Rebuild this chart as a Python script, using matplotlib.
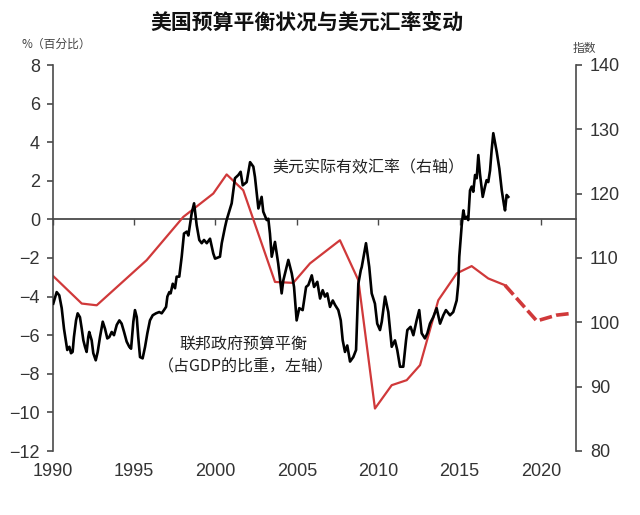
import numpy as np
import matplotlib
matplotlib.use("Agg")
import matplotlib.pyplot as plt

plt.rcParams['font.family'] = ['Liberation Sans', 'Noto Sans CJK SC', 'DejaVu Sans']
cjk = ['Noto Sans CJK SC', 'DejaVu Sans']

# 联邦政府预算平衡（占GDP的比重，左轴）
budget_years = [1990.04, 1991.79, 1992.71, 1995.78, 1998.03, 1999.87, 2000.69, 2001.71,
                2003.66, 2004.78, 2005.81, 2007.65, 2008.78, 2009.80, 2010.83, 2011.75,
                2012.57, 2013.69, 2014.82, 2015.74, 2016.76, 2017.79]
budget_vals = [-2.94, -4.36, -4.45, -2.11, 0.13, 1.34, 2.33, 1.51,
               -3.24, -3.29, -2.28, -1.08, -3.15, -9.80, -8.59, -8.33,
               -7.55, -4.19, -2.80, -2.42, -3.06, -3.41]
# 预测部分（虚线）
fc_years = [2017.79, 2019.74, 2020.96, 2021.78]
fc_vals = [-3.41, -5.26, -4.96, -4.88]

# 美元实际有效汇率（右轴）
reer_years = [1990.04, 1990.25, 1990.41, 1990.56, 1990.70, 1990.82, 1990.90, 1991.03, 1991.13, 1991.23,
              1991.31, 1991.44, 1991.54, 1991.68, 1991.79, 1991.89, 1991.99, 1992.09, 1992.19, 1992.25,
              1992.40, 1992.50, 1992.65, 1992.77, 1992.91, 1993.08, 1993.22, 1993.36, 1993.48, 1993.63,
              1993.77, 1993.94, 1994.10, 1994.24, 1994.39, 1994.55, 1994.71, 1994.82, 1994.96, 1995.06,
              1995.17, 1995.26, 1995.37, 1995.53, 1995.68, 1995.82, 1995.98, 1996.15, 1996.35, 1996.55,
              1996.70, 1996.84, 1996.97, 1997.05, 1997.17, 1997.25, 1997.38, 1997.52, 1997.62, 1997.78,
              1997.93, 1998.07, 1998.24, 1998.34, 1998.54, 1998.69, 1998.85, 1999.01, 1999.16, 1999.30,
              1999.47, 1999.67, 1999.87, 1999.98, 2000.28, 2000.39, 2000.59, 2000.69, 2001.00, 2001.20,
              2001.41, 2001.55, 2001.68, 2001.92, 2002.13, 2002.33, 2002.43, 2002.64, 2002.84, 2002.94,
              2003.15, 2003.25, 2003.35, 2003.46, 2003.66, 2003.86, 2004.07, 2004.17, 2004.48, 2004.69,
              2004.83, 2004.99, 2005.15, 2005.36, 2005.57, 2005.71, 2005.92, 2006.06, 2006.26, 2006.43,
              2006.59, 2006.73, 2006.87, 2007.04, 2007.21, 2007.35, 2007.55, 2007.70, 2007.82, 2007.96,
              2008.10, 2008.27, 2008.47, 2008.64, 2008.78, 2008.93, 2008.99, 2009.25, 2009.45, 2009.60,
              2009.80, 2009.94, 2010.11, 2010.22, 2010.42, 2010.62, 2010.83, 2011.03, 2011.17, 2011.34,
              2011.54, 2011.71, 2011.79, 2011.99, 2012.16, 2012.36, 2012.52, 2012.67, 2012.87, 2013.02,
              2013.18, 2013.38, 2013.59, 2013.80, 2014.00, 2014.16, 2014.41, 2014.61, 2014.82, 2014.92,
              2014.98, 2015.13, 2015.23, 2015.33, 2015.44, 2015.53, 2015.64, 2015.74, 2015.84, 2015.95,
              2016.05, 2016.15, 2016.25, 2016.42, 2016.56, 2016.66, 2016.76, 2016.87, 2016.97, 2017.07,
              2017.28, 2017.44, 2017.59, 2017.73, 2017.79, 2017.89, 2017.99]
reer_vals = [102.9, 104.7, 104.2, 102.2, 99.0, 97.0, 95.7, 96.2, 95.2, 95.4,
             97.7, 100.3, 101.4, 100.8, 99.0, 97.2, 96.2, 95.4, 97.7, 98.5,
             97.2, 95.2, 94.1, 95.4, 97.7, 100.1, 99.0, 97.5, 97.7, 98.5,
             98.0, 99.6, 100.3, 99.8, 98.5, 97.0, 96.2, 95.9, 100.1, 101.9,
             100.8, 97.7, 94.6, 94.4, 96.2, 98.3, 100.3, 101.1, 101.4, 101.6,
             101.4, 101.9, 102.4, 104.0, 104.7, 104.5, 106.0, 105.3, 107.1, 107.1,
             110.2, 113.8, 114.1, 113.5, 116.9, 118.5, 115.1, 112.8, 112.3, 112.8,
             112.3, 113.0, 110.7, 109.9, 110.2, 112.3, 114.8, 115.9, 118.5, 122.4,
             122.9, 123.4, 121.3, 121.8, 124.9, 124.2, 122.6, 117.7, 119.5, 117.2,
             115.9, 116.1, 113.8, 110.2, 112.5, 109.1, 104.5, 106.5, 109.7, 107.6,
             105.5, 100.3, 102.2, 101.9, 105.5, 105.8, 107.3, 105.5, 106.3, 103.7,
             105.0, 104.0, 104.5, 102.4, 103.4, 102.7, 101.9, 100.3, 97.2, 95.4,
             96.4, 93.9, 94.6, 95.7, 106.0, 108.1, 108.6, 112.3, 108.6, 104.5,
             102.9, 99.8, 98.8, 100.1, 104.0, 101.6, 96.2, 97.2, 95.7, 93.1,
             93.1, 97.2, 98.8, 99.3, 98.0, 100.3, 101.9, 98.3, 97.5, 98.3,
             99.8, 100.8, 102.2, 99.8, 101.1, 101.9, 101.1, 101.6, 103.4, 106.0,
             110.2, 115.1, 117.4, 116.1, 116.4, 115.9, 120.5, 121.1, 120.3, 122.9,
             122.4, 126.0, 123.1, 119.5, 121.1, 122.1, 121.8, 123.6, 126.8, 129.4,
             126.5, 123.9, 120.5, 118.2, 117.4, 119.8, 119.5]

x_ticks = [1990, 1995, 2000, 2005, 2010, 2015, 2020]
left_ticks = [8, 6, 4, 2, 0, -2, -4, -6, -8, -10, -12]
right_ticks = [140, 130, 120, 110, 100, 90, 80]

red = '#d0393a'
axis_col = '#4a4a4a'
txt_col = '#333333'

fig = plt.figure(figsize=(6.4, 5.15), dpi=100)
ax = fig.add_axes([52.6 / 640, 1 - 451 / 515, (576 - 52.6) / 640, (451 - 65) / 515])
ax.set_xlim(1990, 2022.15)
ax.set_ylim(-12, 8)

ax.plot(budget_years, budget_vals, color=red, lw=1.6, zorder=2)
ax.plot(fc_years, fc_vals, color=red, lw=2.6, linestyle=(0, (3.5, 1.2)), zorder=2)

ax2 = ax.twinx()
ax2.set_ylim(80, 140)
ax2.plot(reer_years, reer_vals, color='black', lw=1.9, zorder=3)

for a in (ax, ax2):
    a.spines['top'].set_visible(False)
    a.spines['bottom'].set_visible(False)
ax.spines['right'].set_visible(False)
ax2.spines['left'].set_visible(False)
ax.spines['left'].set_color(axis_col)
ax2.spines['right'].set_color(axis_col)
ax.spines['left'].set_linewidth(1.2)
ax2.spines['right'].set_linewidth(1.2)

ax.set_xticks(x_ticks)
ax.set_xticklabels([str(y) for y in x_ticks])
ax.tick_params(axis='x', length=0, pad=9, labelsize=13, labelcolor=txt_col)
ax.set_yticks(left_ticks)
ax.tick_params(axis='y', direction='out', length=4, width=1.2, color=axis_col,
               pad=5, labelsize=13, labelcolor=txt_col)
ax2.set_yticks(right_ticks)
ax2.tick_params(axis='y', direction='out', length=4, width=1.2, color=axis_col,
                pad=6, labelsize=13, labelcolor=txt_col)

# zero line with small ticks at 0 of the left axis
zero = ax.secondary_xaxis(12 / 20)
zero.set_xticks(x_ticks)
zero.tick_params(direction='in', length=4, width=1, color=axis_col,
                 labeltop=False, labelbottom=False)
for s in zero.spines.values():
    s.set_color(axis_col)
    s.set_linewidth(1.3)

fig.text(0.48, 1 - 22 / 515, '美国预算平衡状况与美元汇率变动', ha='center', va='center',
         fontsize=15, fontweight='bold', family=cjk, color='#111111')
fig.text(22 / 640, 1 - 44 / 515, '%（百分比）', ha='left', va='center',
         fontsize=8.5, family=cjk, color='#444444')
fig.text(573 / 640, 1 - 48 / 515, '指数', ha='left', va='center',
         fontsize=8.5, family=cjk, color='#444444')
fig.text(272 / 640, 1 - 168 / 515, '美元实际有效汇率（右轴）', ha='left', va='center',
         fontsize=11.5, family=cjk, color='#222222')
fig.text(243 / 640, 1 - 345 / 515, '联邦政府预算平衡', ha='center', va='center',
         fontsize=11.5, family=cjk, color='#222222')
fig.text(246 / 640, 1 - 367 / 515, '（占GDP的比重，左轴）', ha='center', va='center',
         fontsize=11.5, family=cjk, color='#222222')

fig.savefig('out.png', dpi=100)
